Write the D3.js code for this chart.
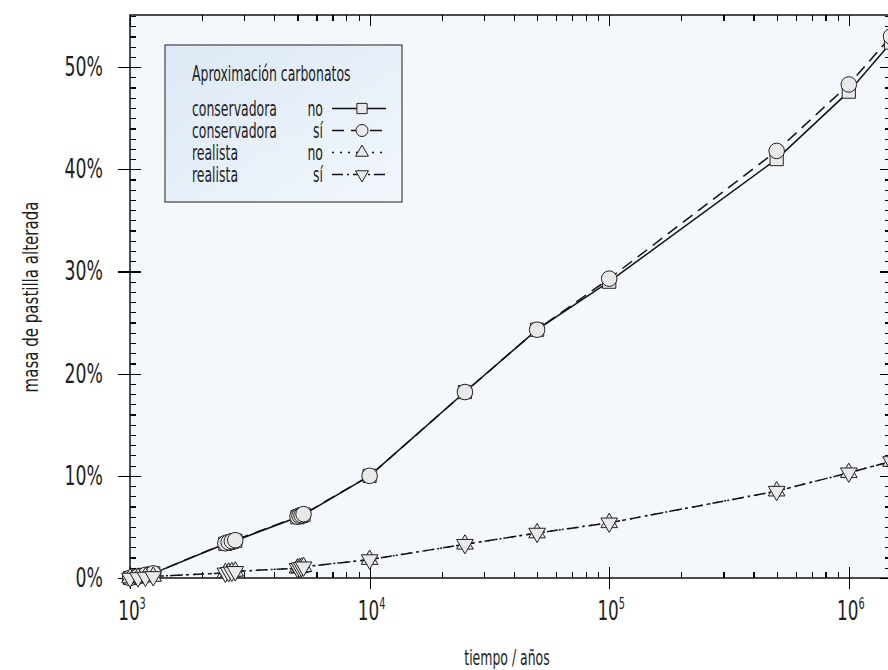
<!DOCTYPE html>
<html>
<head>
<meta charset="UTF-8">
<title>Masa de pastilla alterada</title>
<script src="https://d3js.org/d3.v7.min.js"></script>
<style>
  body { margin: 0; background: #fff; }
  svg text { font-family: "DejaVu Sans Condensed", "Liberation Sans Narrow", sans-serif; font-stretch: condensed; fill: #1e1e1e; }
  .axis path { display: none; }
  .axis line { stroke: #000; stroke-width: 1.2; shape-rendering: crispEdges; }
</style>
</head>
<body>
<svg id="chart" width="888" height="670"></svg>
<script>
// time steps (years)
const years = [1000, 1080, 1160, 1250, 2500, 2580, 2660, 2750, 5000, 5100, 5200, 5300,
               10000, 25000, 50000, 100000, 500000, 1000000, 1500000];
// altered pellet mass (%)
const consNo = [0.0, 0.15, 0.3, 0.45, 3.35, 3.45, 3.55, 3.65, 5.95, 6.05, 6.1, 6.2,
                10.0, 18.2, 24.3, 29.0, 41.0, 47.6, 52.4];
const consSi = [0.0, 0.15, 0.3, 0.45, 3.4, 3.5, 3.6, 3.7, 6.0, 6.1, 6.15, 6.25,
                10.0, 18.2, 24.3, 29.3, 41.8, 48.3, 53.0];
const realNo = [0.0, 0.05, 0.1, 0.15, 0.5, 0.55, 0.6, 0.65, 0.95, 1.0, 1.05, 1.1,
                1.8, 3.3, 4.4, 5.4, 8.5, 10.3, 11.4];
const realSi = [0.0, 0.05, 0.1, 0.15, 0.5, 0.55, 0.6, 0.65, 0.95, 1.0, 1.05, 1.1,
                1.8, 3.3, 4.4, 5.4, 8.5, 10.3, 11.4];

const aproximacion = ["conservadora", "conservadora", "realista", "realista"];
const carbonatos = ["no", "sí", "no", "sí"];
const xMajor = [1e3, 1e4, 1e5, 1e6];
const yMajor = [0, 10, 20, 30, 40, 50];

const series = [
  { values: consNo, symbol: d3.symbolSquare, size: 175, rot: 0, dash: null },
  { values: consSi, symbol: d3.symbolCircle, size: 190, rot: 0, dash: "12,7" },
  { values: realNo, symbol: d3.symbolTriangle, size: 120, rot: 0, dash: "2,6" },
  { values: realSi, symbol: d3.symbolTriangle, size: 120, rot: 180, dash: "11,4,2,4" }
];

const svg = d3.select("#chart");
const pLeft = 130, pRight = 891, pTop = 15, pBottom = 578;

const x = d3.scaleLog().domain([1000, 1.5e6]).range([pLeft, pRight]);
const y = d3.scaleLinear().domain([0, 55.1]).range([pBottom, pTop]);

// text squeezed horizontally to imitate the condensed face of the original
function label(parent, tx, ty, str, size, k, anchor) {
  return parent.append("text")
    .attr("transform", `translate(${tx},${ty}) scale(${k},1)`)
    .attr("text-anchor", anchor || "start")
    .style("font-size", size + "px")
    .text(str);
}

// plot background
svg.append("rect")
  .attr("x", pLeft).attr("y", pTop)
  .attr("width", pRight - pLeft).attr("height", pBottom - pTop)
  .attr("fill", "#f4f8fc");

// minor tick values
const xMinor = [];
for (let e = 3; e <= 6; e++) for (let m = 2; m <= 9; m++) if (m * 10 ** e <= 1.5e6) xMinor.push(m * 10 ** e);
const yMinor = d3.range(0, 56, 1).filter(v => v % 10 !== 0);

function addAxis(axis, transform) {
  return svg.append("g").attr("class", "axis").attr("transform", transform).call(axis);
}

// bottom
addAxis(d3.axisBottom(x).tickValues(xMajor).tickSize(11).tickFormat(""), `translate(0,${pBottom})`);
addAxis(d3.axisBottom(x).tickValues(xMajor).tickSize(-11).tickFormat(""), `translate(0,${pBottom})`);
addAxis(d3.axisBottom(x).tickValues(xMinor).tickSize(-6).tickFormat(""), `translate(0,${pBottom})`);
// top
addAxis(d3.axisTop(x).tickValues(xMajor).tickSize(-11).tickFormat(""), `translate(0,${pTop})`);
addAxis(d3.axisTop(x).tickValues(xMinor).tickSize(-6).tickFormat(""), `translate(0,${pTop})`);
// left
addAxis(d3.axisLeft(y).tickValues(yMajor).tickSize(12).tickFormat(""), `translate(${pLeft},0)`);
addAxis(d3.axisLeft(y).tickValues(yMajor).tickSize(-11).tickFormat(""), `translate(${pLeft},0)`);
addAxis(d3.axisLeft(y).tickValues(yMinor).tickSize(-6).tickFormat(""), `translate(${pLeft},0)`);
// right
addAxis(d3.axisRight(y).tickValues(yMajor).tickSize(-11).tickFormat(""), `translate(${pRight},0)`);
addAxis(d3.axisRight(y).tickValues(yMinor).tickSize(-6).tickFormat(""), `translate(${pRight},0)`);

// y tick labels
const yl = svg.append("g");
yMajor.forEach(v => label(yl, pLeft - 27, y(v) + 9, v + "%", 26, 0.74, "end"));

// x tick labels 10^n
const xl = svg.append("g");
xMajor.forEach(v => {
  const t = label(xl, x(v) + 2, pBottom + 42, "", 26, 0.72, "middle");
  t.append("tspan").text("10");
  t.append("tspan").attr("dy", -11).style("font-size", "15px").text(Math.round(Math.log10(v)));
});

// frame
svg.append("rect")
  .attr("x", pLeft).attr("y", pTop)
  .attr("width", pRight - pLeft).attr("height", pBottom - pTop)
  .attr("fill", "none").attr("stroke", "#000").attr("stroke-width", 1.4);

// lines + markers
const line = d3.line().x((d, i) => x(years[i])).y(d => y(d));
series.forEach(s => {
  svg.append("path")
    .attr("d", line(s.values))
    .attr("fill", "none")
    .attr("stroke", "#111")
    .attr("stroke-width", 1.5)
    .attr("stroke-dasharray", s.dash);
});
series.forEach(s => {
  svg.append("g").selectAll("path")
    .data(s.values).join("path")
    .attr("d", d3.symbol().type(s.symbol).size(s.size))
    .attr("transform", (d, i) => `translate(${x(years[i])},${y(d)}) rotate(${s.rot})`)
    .attr("fill", "#e9e9e9")
    .attr("stroke", "#222")
    .attr("stroke-width", 1);
});

// legend
const defs = svg.append("defs");
const grad = defs.append("linearGradient").attr("id", "lg")
  .attr("x1", "0").attr("y1", "0").attr("x2", "1").attr("y2", "1");
grad.append("stop").attr("offset", "0%").attr("stop-color", "#dce8f5");
grad.append("stop").attr("offset", "100%").attr("stop-color", "#f2f7fc");

const lg = svg.append("g");
lg.append("rect")
  .attr("x", 165).attr("y", 45).attr("width", 237).attr("height", 157)
  .attr("fill", "url(#lg)").attr("stroke", "#444").attr("stroke-width", 1.2);
label(lg, 192, 81, "Aproximación carbonatos", 21, 0.66);

series.forEach((s, i) => {
  const cy = 108.5 + i * 22;
  label(lg, 192, cy + 7, aproximacion[i], 21, 0.66);
  label(lg, 323, cy + 7, carbonatos[i], 21, 0.66, "end");
  lg.append("line")
    .attr("x1", 332).attr("x2", 386).attr("y1", cy).attr("y2", cy)
    .attr("stroke", "#111").attr("stroke-width", 1.5)
    .attr("stroke-dasharray", s.dash);
  lg.append("path")
    .attr("d", d3.symbol().type(s.symbol).size(s.size * 0.6))
    .attr("transform", `translate(362,${cy}) rotate(${s.rot})`)
    .attr("fill", "#e9e9e9").attr("stroke", "#222").attr("stroke-width", 1);
});

// axis titles
svg.append("text")
  .attr("transform", "translate(38,297) rotate(-90) scale(0.76,1)")
  .attr("text-anchor", "middle").style("font-size", "22px")
  .text("masa de pastilla alterada");
label(svg, 507, 665, "tiempo / años", 22, 0.63, "middle");
</script>
</body>
</html>
